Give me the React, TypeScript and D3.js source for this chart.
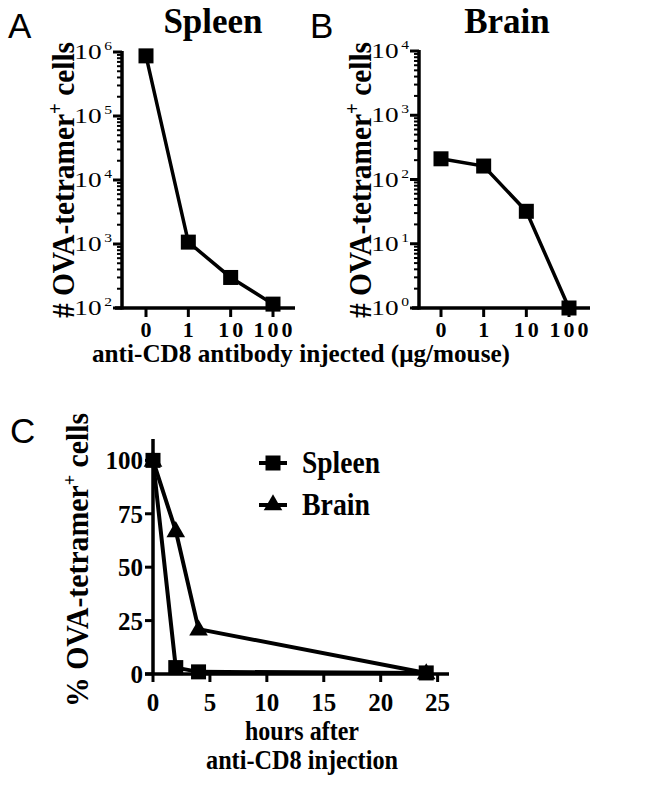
import { useEffect, useRef } from 'react'
import * as d3 from 'd3'

// Panel A/B: dose categories and tetramer+ cell counts
const doseLabels = ['0', '1', '10', '100']
const spleenCounts = [870000, 1070, 300, 115]
const brainCounts = [210, 162, 32, 1]

// Panel C: time course, % of baseline
const hours = [0, 2, 4, 24]
const spleenPct = [100, 3, 1, 0.5]
const brainPct = [100, 67, 21, 0.5]
const pctTicks = [0, 25, 50, 75, 100]
const hourTicks = [0, 5, 10, 15, 20, 25]

const SERIF = '"Liberation Serif", "Times New Roman", serif'
const SANS = '"Liberation Sans", Arial, sans-serif'

type LogPanel = {
  axisX: number
  xEnd: number
  catRange: [number, number]
  domain: [number, number]
  top: number
  bottom: number
  title: string
  titleX: number
  letter: string
  letterX: number
  labelX: number
  values: number[]
}

function drawLogPanel(svg: d3.Selection<SVGSVGElement, unknown, null, undefined>, p: LogPanel) {
  const g = svg.append('g')
  const y = d3.scaleLog().domain(p.domain).range([p.bottom, p.top])
  const x = d3.scalePoint<string>().domain(doseLabels).range(p.catRange)

  const all = y.ticks()
  const isMajor = (v: number) => Math.abs(Math.log10(v) - Math.round(Math.log10(v))) < 1e-9
  const majors = all.filter(isMajor)
  const minors = all.filter((v) => !isMajor(v))

  // ── axes ──
  g.append('line')
    .attr('x1', p.axisX).attr('x2', p.axisX)
    .attr('y1', p.top - 1).attr('y2', p.bottom + 1.5)
    .attr('stroke', '#000').attr('stroke-width', 3.5)
  g.append('line')
    .attr('x1', p.axisX - 7).attr('x2', p.xEnd)
    .attr('y1', p.bottom).attr('y2', p.bottom)
    .attr('stroke', '#000').attr('stroke-width', 3.5)

  g.selectAll('.minor').data(minors).join('line')
    .attr('x1', p.axisX - 5).attr('x2', p.axisX)
    .attr('y1', (d) => y(d)).attr('y2', (d) => y(d))
    .attr('stroke', '#000').attr('stroke-width', 2)
  g.selectAll('.major').data(majors).join('line')
    .attr('x1', p.axisX - 9).attr('x2', p.axisX)
    .attr('y1', (d) => y(d)).attr('y2', (d) => y(d))
    .attr('stroke', '#000').attr('stroke-width', 3)

  const yl = g.selectAll('.ylab').data(majors).join('text')
    .attr('transform', (d) => `translate(${p.axisX - 10},${y(d) + 7}) scale(1.3,1)`)
    .attr('text-anchor', 'end')
    .attr('font-family', SERIF).attr('font-size', 21)
  yl.append('tspan').text('10')
  yl.append('tspan').attr('dx', 2).attr('dy', -9).attr('font-size', 12)
    .text((d) => String(Math.round(Math.log10(d))))

  g.selectAll('.xtick').data(doseLabels).join('line')
    .attr('x1', (d) => x(d)!).attr('x2', (d) => x(d)!)
    .attr('y1', p.bottom).attr('y2', p.bottom + 9)
    .attr('stroke', '#000').attr('stroke-width', 3)
  g.selectAll('.xlab').data(doseLabels).join('text')
    .attr('x', (d) => x(d)! + 1.5).attr('y', p.bottom + 29)
    .attr('text-anchor', 'middle')
    .attr('font-family', SERIF).attr('font-weight', 'bold').attr('font-size', 22)
    .attr('letter-spacing', 3)
    .text((d) => d)

  // ── data ──
  const pts = doseLabels.map((d, i) => ({ c: d, v: p.values[i] }))
  g.append('path')
    .attr('d', d3.line<{ c: string; v: number }>().x((d) => x(d.c)!).y((d) => y(d.v))(pts))
    .attr('fill', 'none').attr('stroke', '#000').attr('stroke-width', 3.5)
  g.selectAll('.pt').data(pts).join('rect')
    .attr('x', (d) => x(d.c)! - 7.5).attr('y', (d) => y(d.v) - 7.5)
    .attr('width', 15).attr('height', 15).attr('fill', '#000')

  // ── labels ──
  g.append('text')
    .attr('x', p.titleX).attr('y', 33).attr('text-anchor', 'middle')
    .attr('font-family', SERIF).attr('font-weight', 'bold').attr('font-size', 35)
    .text(p.title)
  g.append('text')
    .attr('x', p.letterX).attr('y', 38)
    .attr('font-family', SANS).attr('font-size', 35)
    .text(p.letter)

  const lab = g.append('text')
    .attr('transform', `translate(${p.labelX},180) rotate(-90)`)
    .attr('text-anchor', 'middle')
    .attr('font-family', SERIF).attr('font-weight', 'bold').attr('font-size', 31)
    .attr('textLength', 276).attr('lengthAdjust', 'spacingAndGlyphs')
  lab.append('tspan').text('# OVA-tetramer')
  lab.append('tspan').attr('dy', -12).attr('font-size', 20).text('+')
  lab.append('tspan').attr('dy', 12).text(' cells')
}

function drawTimePanel(svg: d3.Selection<SVGSVGElement, unknown, null, undefined>) {
  const g = svg.append('g')
  const x = d3.scaleLinear().domain([0, 26]).range([153, 449])
  const y = d3.scaleLinear().domain([0, 110]).range([674, 439])

  g.append('line')
    .attr('x1', x(0)).attr('x2', x(0)).attr('y1', y(110)).attr('y2', y(0))
    .attr('stroke', '#000').attr('stroke-width', 3.5)
  g.append('line')
    .attr('x1', x(0) - 8).attr('x2', x(26)).attr('y1', y(0)).attr('y2', y(0))
    .attr('stroke', '#000').attr('stroke-width', 3.5)

  g.selectAll('.yt').data(pctTicks).join('line')
    .attr('x1', x(0) - 8).attr('x2', x(0))
    .attr('y1', (d) => y(d)).attr('y2', (d) => y(d))
    .attr('stroke', '#000').attr('stroke-width', 3)
  g.selectAll('.yl').data(pctTicks).join('text')
    .attr('x', x(0) - 10).attr('y', (d) => y(d) + 9)
    .attr('text-anchor', 'end')
    .attr('font-family', SERIF).attr('font-weight', 'bold').attr('font-size', 25)
    .text((d) => d)
  g.selectAll('.xt').data(hourTicks).join('line')
    .attr('x1', (d) => x(d)).attr('x2', (d) => x(d))
    .attr('y1', y(0)).attr('y2', y(0) + 8)
    .attr('stroke', '#000').attr('stroke-width', 3)
  g.selectAll('.xl').data(hourTicks).join('text')
    .attr('x', (d) => x(d)).attr('y', 711)
    .attr('text-anchor', 'middle')
    .attr('font-family', SERIF).attr('font-weight', 'bold').attr('font-size', 25)
    .text((d) => d)

  const line = d3.line<number>().x((_, i) => x(hours[i])).y((d) => y(d))
  const tri = d3.symbol().type(d3.symbolTriangle).size(150)

  // brain first, spleen squares on top
  g.append('path').attr('d', line(brainPct))
    .attr('fill', 'none').attr('stroke', '#000').attr('stroke-width', 4)
  g.selectAll('.tri').data(brainPct).join('path')
    .attr('d', tri()!)
    .attr('transform', (d, i) => `translate(${x(hours[i])},${y(d) + 1})`)
    .attr('fill', '#000')
  g.append('path').attr('d', line(spleenPct))
    .attr('fill', 'none').attr('stroke', '#000').attr('stroke-width', 4)
  g.selectAll('.sq').data(spleenPct).join('rect')
    .attr('x', (_, i) => x(hours[i]) - 7.5).attr('y', (d) => y(d) - 7.5)
    .attr('width', 15).attr('height', 15).attr('fill', '#000')

  // legend
  const leg = [
    { name: 'Spleen', yy: 463, w: 78, shape: 'sq' },
    { name: 'Brain', yy: 505, w: 68, shape: 'tri' },
  ]
  leg.forEach((l) => {
    g.append('line').attr('x1', 259).attr('x2', 287).attr('y1', l.yy).attr('y2', l.yy)
      .attr('stroke', '#000').attr('stroke-width', 4)
    if (l.shape === 'sq') {
      g.append('rect').attr('x', 265.5).attr('y', l.yy - 7.5)
        .attr('width', 15).attr('height', 15).attr('fill', '#000')
    } else {
      g.append('path').attr('d', tri()!).attr('transform', `translate(273,${l.yy})`)
        .attr('fill', '#000')
    }
    g.append('text').attr('x', 302).attr('y', l.yy + 10)
      .attr('font-family', SERIF).attr('font-weight', 'bold').attr('font-size', 31)
      .attr('textLength', l.w).attr('lengthAdjust', 'spacingAndGlyphs')
      .text(l.name)
  })

  g.append('text').attr('x', 10).attr('y', 443)
    .attr('font-family', SANS).attr('font-size', 35).text('C')

  const lab = g.append('text')
    .attr('transform', 'translate(88,560) rotate(-90)')
    .attr('text-anchor', 'middle')
    .attr('font-family', SERIF).attr('font-weight', 'bold').attr('font-size', 31)
    .attr('textLength', 294).attr('lengthAdjust', 'spacingAndGlyphs')
  lab.append('tspan').text('% OVA-tetramer')
  lab.append('tspan').attr('dy', -12).attr('font-size', 19).text('+')
  lab.append('tspan').attr('dy', 12).text(' cells')

  g.append('text').attr('x', 302).attr('y', 740).attr('text-anchor', 'middle')
    .attr('font-family', SERIF).attr('font-weight', 'bold').attr('font-size', 27)
    .attr('textLength', 114).attr('lengthAdjust', 'spacingAndGlyphs')
    .text('hours after')
  g.append('text').attr('x', 302).attr('y', 769).attr('text-anchor', 'middle')
    .attr('font-family', SERIF).attr('font-weight', 'bold').attr('font-size', 27)
    .attr('textLength', 192).attr('lengthAdjust', 'spacingAndGlyphs')
    .text('anti-CD8 injection')
}

export default function App() {
  const svgRef = useRef<SVGSVGElement>(null)

  useEffect(() => {
    if (!svgRef.current) return
    const svg = d3.select(svgRef.current)
    svg.selectAll('*').remove()
    svg.append('rect').attr('width', 647).attr('height', 788).attr('fill', '#fff')

    drawLogPanel(svg, {
      axisX: 122, xEnd: 295, catRange: [146, 273], domain: [100, 1e6], top: 52, bottom: 308,
      title: 'Spleen', titleX: 213, letter: 'A', letterX: 8, labelX: 74, values: spleenCounts,
    })
    drawLogPanel(svg, {
      axisX: 419, xEnd: 590, catRange: [441, 569], domain: [1, 1e4], top: 51, bottom: 308,
      title: 'Brain', titleX: 507, letter: 'B', letterX: 310, labelX: 371, values: brainCounts,
    })

    svg.append('text')
      .attr('x', 301).attr('y', 362).attr('text-anchor', 'middle')
      .attr('font-family', SERIF).attr('font-weight', 'bold').attr('font-size', 25)
      .attr('textLength', 418).attr('lengthAdjust', 'spacingAndGlyphs')
      .text('anti-CD8 antibody injected (μg/mouse)')

    drawTimePanel(svg)
  }, [])

  return (
    <svg
      ref={svgRef}
      width={647}
      height={788}
      style={{ position: 'absolute', left: 0, top: 0, display: 'block' }}
    />
  )
}
